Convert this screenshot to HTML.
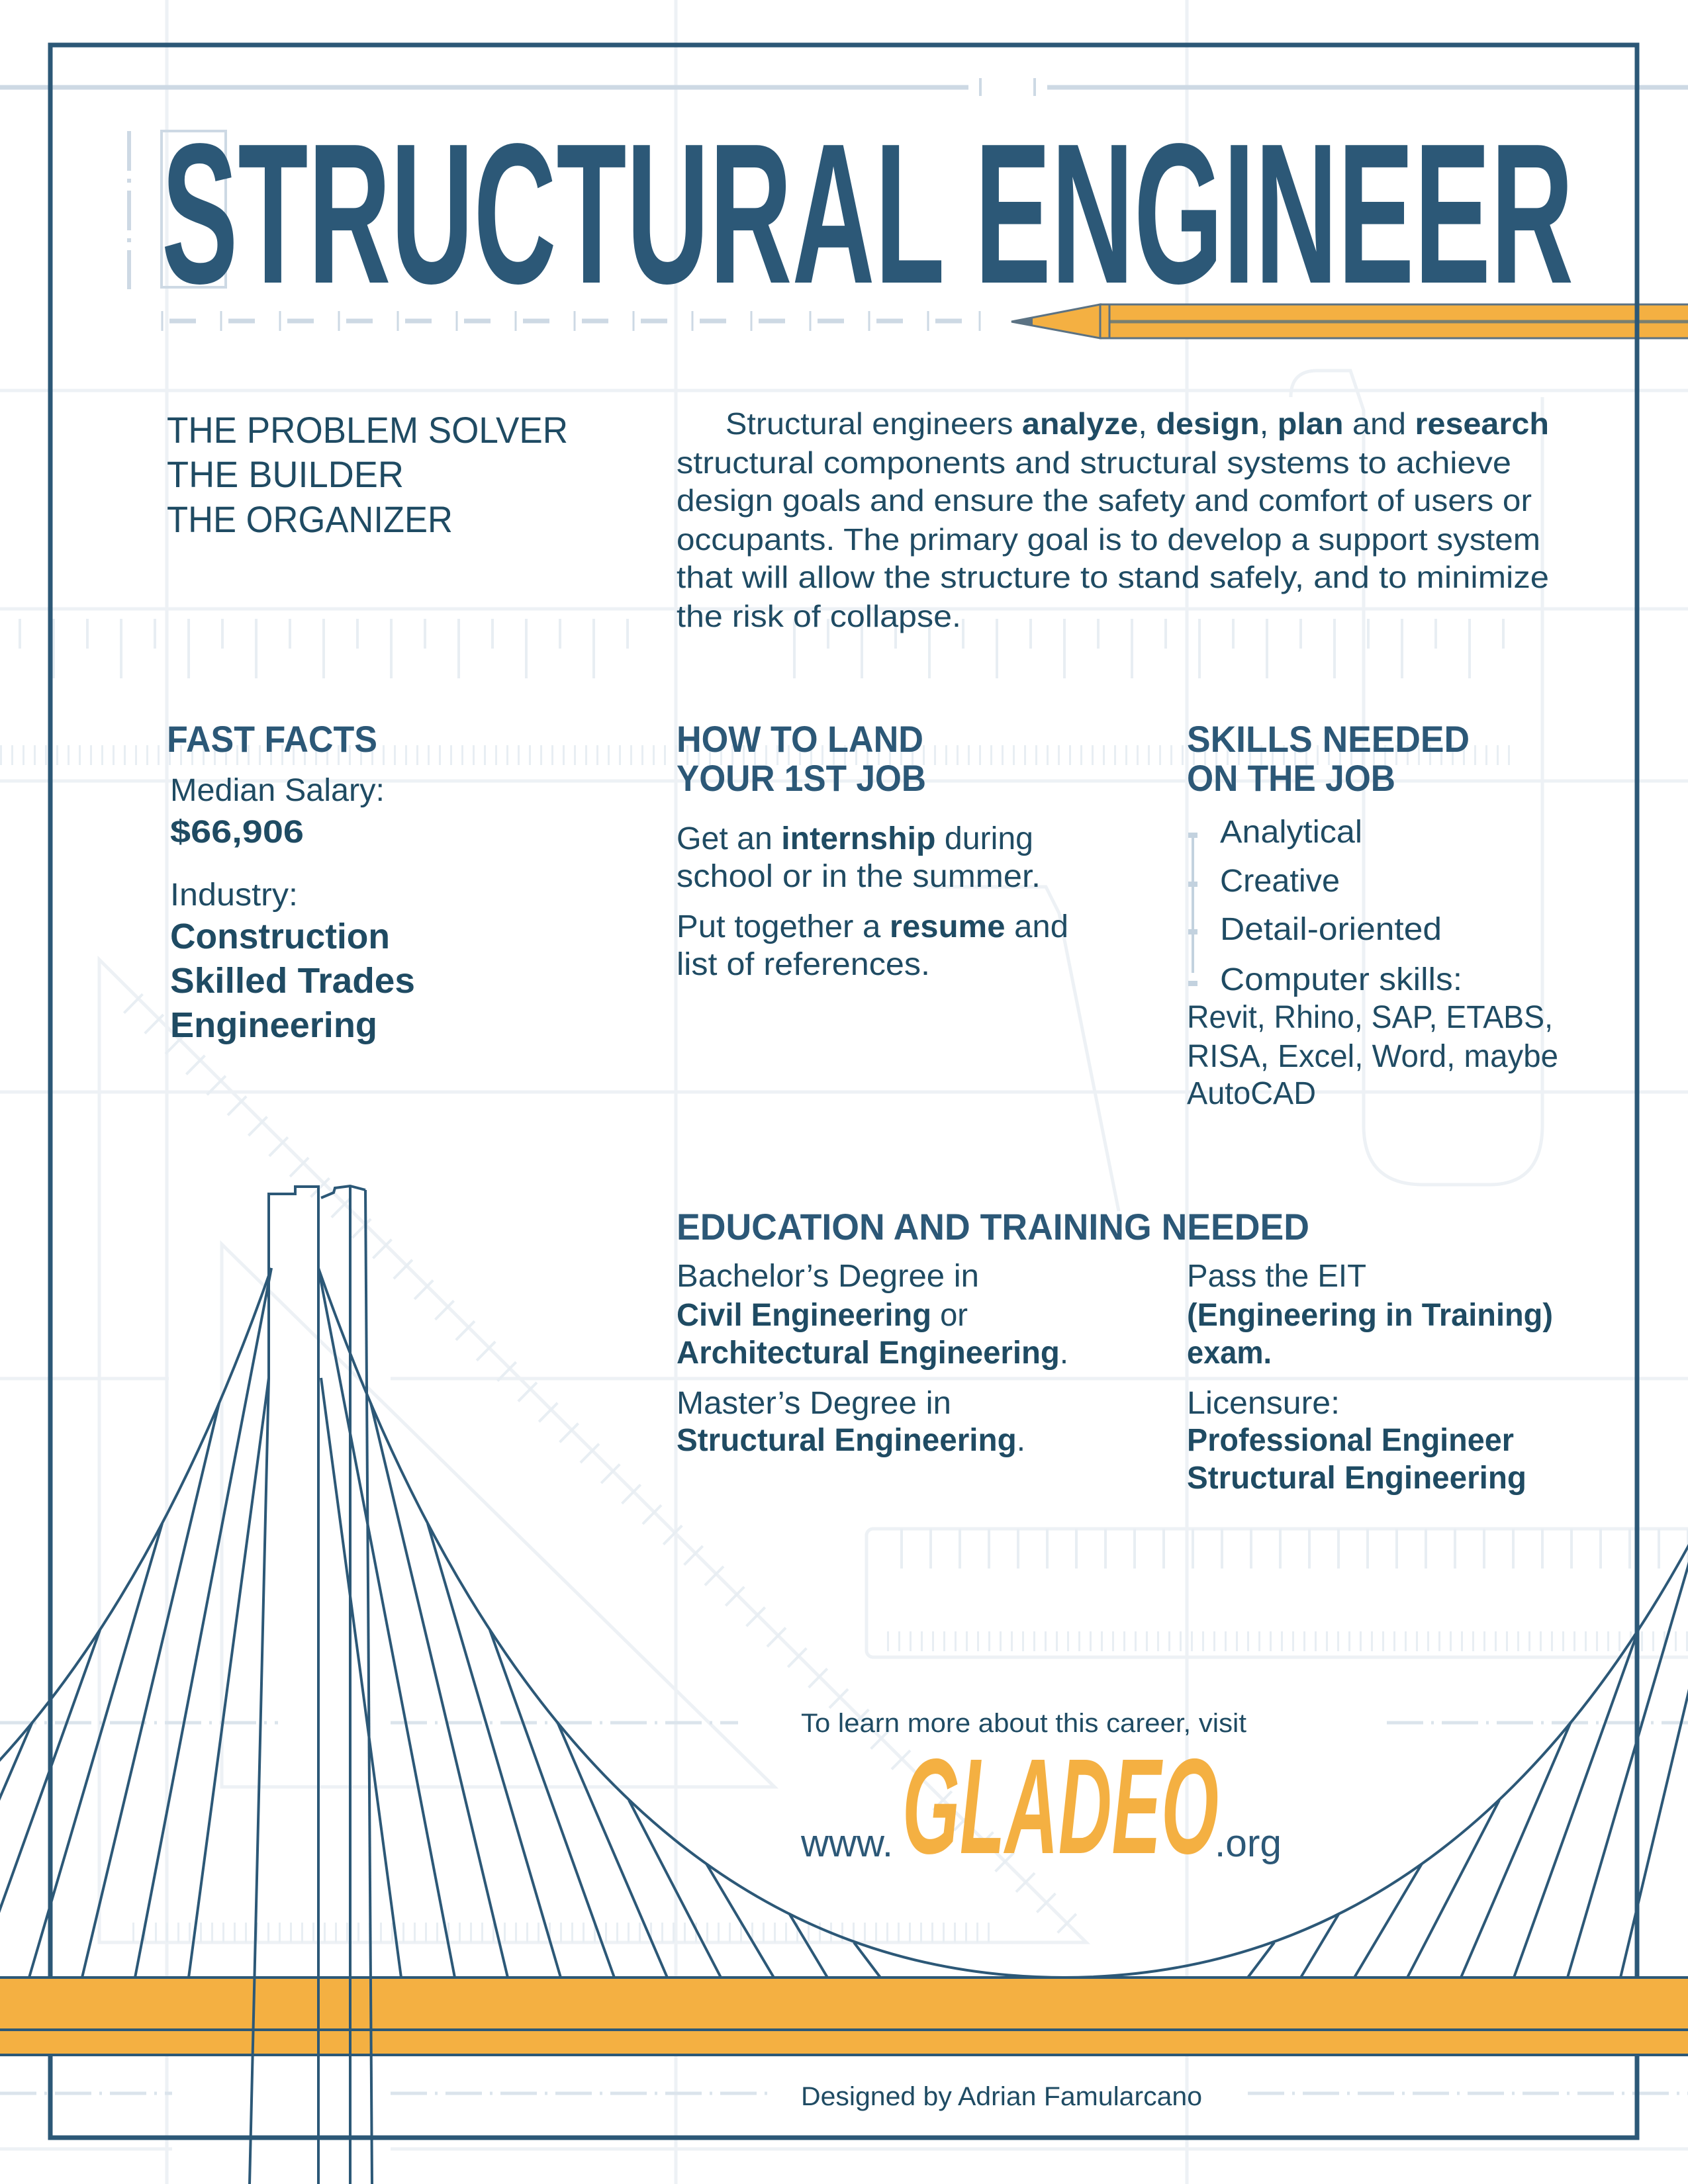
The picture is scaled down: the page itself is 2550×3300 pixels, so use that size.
<!DOCTYPE html>
<html><head><meta charset="utf-8"><style>
html,body{margin:0;padding:0;background:#fff}
svg{display:block}
text{font-family:"Liberation Sans",sans-serif;fill:#1f4b63}
.b{font-weight:bold}
.t{fill:#2c5877}
</style></head><body>
<svg width="2550" height="3300" viewBox="0 0 2550 3300" xmlns="http://www.w3.org/2000/svg">
<rect width="2550" height="3300" fill="#fff"/>
<!-- faint background -->
<g stroke="#edf1f5" stroke-width="5" fill="none">
 <line x1="252" y1="0" x2="252" y2="3300"/>
 <line x1="1021" y1="0" x2="1021" y2="3300"/>
 <line x1="1793" y1="0" x2="1793" y2="3300"/>
 <line x1="0" y1="590" x2="2550" y2="590"/>
 <line x1="0" y1="920" x2="2550" y2="920"/>
 <line x1="0" y1="1180" x2="2550" y2="1180"/>
 <line x1="0" y1="1650" x2="2550" y2="1650"/>
 <line x1="0" y1="2083" x2="255" y2="2083"/>
 <line x1="590" y1="2083" x2="2550" y2="2083"/>
 <rect x="1309" y="2310" width="1260" height="194" rx="10"/>
 <polygon points="150,1450 150,2935 1641,2935"/>
 <polygon points="335,1880 335,2700 1170,2700"/>
 <path d="M1950 600 Q1950 560 1990 560 L2040 560 L2060 620 L2060 1700 Q2060 1790 2150 1790 L2250 1790 Q2330 1790 2330 1700 L2330 600"/>
 <path d="M1400 1340 L1580 1340 L1600 1380 L1690 1830"/>
</g>
<g stroke="#e8eef3" stroke-width="4">
 <path d="M30 935 V980 M81 935 V1025 M132 935 V980 M183 935 V1025 M234 935 V980 M285 935 V1025 M336 935 V980 M387 935 V1025 M438 935 V980 M489 935 V1025 M540 935 V980 M591 935 V1025 M642 935 V980 M693 935 V1025 M744 935 V980 M795 935 V1025 M846 935 V980 M897 935 V1025 M948 935 V980 M1200 935 V1025 M1251 935 V980 M1302 935 V1025 M1353 935 V980 M1404 935 V1025 M1455 935 V980 M1506 935 V1025 M1557 935 V980 M1608 935 V1025 M1659 935 V980 M1710 935 V1025 M1761 935 V980 M1812 935 V1025 M1863 935 V980 M1914 935 V1025 M1965 935 V980 M2016 935 V1025 M2067 935 V980 M2118 935 V1025 M2169 935 V980 M2220 935 V1025 M2271 935 V980"/>
</g>
<g stroke="#e8eef3" stroke-width="3" stroke-dasharray="3 14">
 <line x1="0" y1="1141" x2="2290" y2="1141" stroke-width="30"/>
 <line x1="1340" y1="2480" x2="2550" y2="2480" stroke-width="30"/>
 <line x1="200" y1="2920" x2="1500" y2="2920" stroke-width="30"/>
</g>
<g stroke="#e8eef3" stroke-width="3" stroke-dasharray="4 40">
 <line x1="1360" y1="2340" x2="2550" y2="2340" stroke-width="60"/>
 <line x1="200" y1="1515" x2="1641" y2="2935" stroke-width="40"/>
</g>
<g stroke="#dbe4ec" stroke-width="5" stroke-dasharray="55 12 4 12">
 <line x1="0" y1="2603" x2="420" y2="2603"/>
 <line x1="590" y1="2603" x2="1115" y2="2603"/>
 <line x1="2095" y1="2603" x2="2550" y2="2603"/>
 <line x1="0" y1="3163" x2="260" y2="3163"/>
 <line x1="590" y1="3163" x2="1170" y2="3163"/>
 <line x1="1885" y1="3163" x2="2550" y2="3163"/>
</g>
<line x1="0" y1="3247" x2="260" y2="3247" stroke="#edf1f5" stroke-width="5"/>
<line x1="590" y1="3247" x2="2550" y2="3247" stroke="#edf1f5" stroke-width="5"/>
<!-- top rule -->
<g stroke="#cdd9e4" stroke-width="7">
 <line x1="0" y1="132" x2="1463" y2="132"/>
 <line x1="1582" y1="132" x2="2550" y2="132"/>
 <line x1="1481" y1="118" x2="1481" y2="145" stroke-width="4"/>
 <line x1="1563" y1="118" x2="1563" y2="145" stroke-width="4"/>
</g>
<!-- title marks -->
<rect x="244" y="198" width="97" height="236" fill="none" stroke="#cdd9e4" stroke-width="4"/>
<line x1="195" y1="198" x2="195" y2="437" stroke="#cdd9e4" stroke-width="6" stroke-dasharray="60 12 6 12"/>
<g stroke="#cdd9e4">
 <line x1="244" y1="485" x2="1480" y2="485" stroke-width="7" stroke-dasharray="0 12 40 37"/>
</g>
<g stroke="#cdd9e4" stroke-width="3">
 <path d="M245 470V500 M334 470V500 M423 470V500 M512 470V500 M601 470V500 M690 470V500 M779 470V500 M868 470V500 M957 470V500 M1046 470V500 M1135 470V500 M1224 470V500 M1313 470V500 M1402 470V500 M1480 470V500"/>
</g>
<text x="244" y="427" font-size="302" class="b t" textLength="2133" lengthAdjust="spacingAndGlyphs">STRUCTURAL ENGINEER</text>
<!-- pencil -->
<polygon points="1528,486 1662,460 1662,511" fill="#f4b042" stroke="#5b7283" stroke-width="3"/>
<polygon points="1528,486 1560,480 1560,492" fill="#5b7283"/>
<rect x="1662" y="460" width="900" height="51" fill="#f4b042" stroke="#5b7283" stroke-width="3"/>
<line x1="1676" y1="486" x2="2550" y2="486" stroke="#7a7f70" stroke-width="5"/>
<line x1="1676" y1="460" x2="1676" y2="511" stroke="#5b7283" stroke-width="3"/>
<!-- frame -->
<rect x="76" y="68" width="2397" height="3162" fill="none" stroke="#2c5877" stroke-width="7"/>

<g font-size="56">
<text x="252" y="669" textLength="606" lengthAdjust="spacingAndGlyphs">THE PROBLEM SOLVER</text>
<text x="252" y="736" textLength="358" lengthAdjust="spacingAndGlyphs">THE BUILDER</text>
<text x="252" y="804" textLength="432" lengthAdjust="spacingAndGlyphs">THE ORGANIZER</text>
</g>
<g font-size="46">
<text x="1096" y="656" textLength="1244" lengthAdjust="spacingAndGlyphs">Structural engineers <tspan class="b">analyze</tspan>, <tspan class="b">design</tspan>, <tspan class="b">plan</tspan> and <tspan class="b">research</tspan></text>
<text x="1022" y="715" textLength="1261" lengthAdjust="spacingAndGlyphs">structural components and structural systems to achieve</text>
<text x="1022" y="772" textLength="1292" lengthAdjust="spacingAndGlyphs">design goals and ensure the safety and comfort of users or</text>
<text x="1022" y="831" textLength="1305" lengthAdjust="spacingAndGlyphs">occupants. The primary goal is to develop a support system</text>
<text x="1022" y="888" textLength="1318" lengthAdjust="spacingAndGlyphs">that will allow the structure to stand safely, and to minimize</text>
<text x="1022" y="947" textLength="430" lengthAdjust="spacingAndGlyphs">the risk of collapse.</text>
</g>
<g font-size="56" class="b">
<text class="b t" x="252" y="1136" textLength="318" lengthAdjust="spacingAndGlyphs">FAST FACTS</text>
<text class="b t" x="1022" y="1136" textLength="373" lengthAdjust="spacingAndGlyphs">HOW TO LAND</text>
<text class="b t" x="1022" y="1195" textLength="377" lengthAdjust="spacingAndGlyphs">YOUR 1ST JOB</text>
<text class="b t" x="1793" y="1136" textLength="427" lengthAdjust="spacingAndGlyphs">SKILLS NEEDED</text>
<text class="b t" x="1793" y="1195" textLength="315" lengthAdjust="spacingAndGlyphs">ON THE JOB</text>
<text class="b t" x="1022" y="1873" textLength="956" lengthAdjust="spacingAndGlyphs">EDUCATION AND TRAINING NEEDED</text>
</g>
<g font-size="48">
<text x="257" y="1210" textLength="324" lengthAdjust="spacingAndGlyphs">Median Salary:</text>
<text x="257" y="1273" class="b" textLength="202" lengthAdjust="spacingAndGlyphs">$66,906</text>
<text x="257" y="1368" textLength="193" lengthAdjust="spacingAndGlyphs">Industry:</text>
<text x="257" y="1433" class="b" font-size="54" textLength="332" lengthAdjust="spacingAndGlyphs">Construction</text>
<text x="257" y="1500" class="b" font-size="54" textLength="370" lengthAdjust="spacingAndGlyphs">Skilled Trades</text>
<text x="257" y="1567" class="b" font-size="54" textLength="313" lengthAdjust="spacingAndGlyphs">Engineering</text>

<text x="1022" y="1283" textLength="539" lengthAdjust="spacingAndGlyphs">Get an <tspan class="b">internship</tspan> during</text>
<text x="1022" y="1340" textLength="550" lengthAdjust="spacingAndGlyphs">school or in the summer.</text>
<text x="1022" y="1416" textLength="592" lengthAdjust="spacingAndGlyphs">Put together a <tspan class="b">resume</tspan> and</text>
<text x="1022" y="1473" textLength="383" lengthAdjust="spacingAndGlyphs">list of references.</text>

<text x="1843" y="1273" textLength="215" lengthAdjust="spacingAndGlyphs">Analytical</text>
<text x="1843" y="1347" textLength="181" lengthAdjust="spacingAndGlyphs">Creative</text>
<text x="1843" y="1420" textLength="335" lengthAdjust="spacingAndGlyphs">Detail-oriented</text>
<text x="1843" y="1496" textLength="366" lengthAdjust="spacingAndGlyphs">Computer skills:</text>
<text x="1793" y="1553" textLength="553" lengthAdjust="spacingAndGlyphs">Revit, Rhino, SAP, ETABS,</text>
<text x="1793" y="1612" textLength="561" lengthAdjust="spacingAndGlyphs">RISA, Excel, Word, maybe</text>
<text x="1793" y="1668" textLength="195" lengthAdjust="spacingAndGlyphs">AutoCAD</text>

<text x="1022" y="1944" textLength="457" lengthAdjust="spacingAndGlyphs">Bachelor’s Degree in</text>
<text x="1022" y="2003" textLength="440" lengthAdjust="spacingAndGlyphs"><tspan class="b">Civil Engineering</tspan> or</text>
<text x="1022" y="2060" textLength="592" lengthAdjust="spacingAndGlyphs"><tspan class="b">Architectural Engineering</tspan>.</text>
<text x="1022" y="2136" textLength="415" lengthAdjust="spacingAndGlyphs">Master’s Degree in</text>
<text x="1022" y="2192" textLength="527" lengthAdjust="spacingAndGlyphs"><tspan class="b">Structural Engineering</tspan>.</text>

<text x="1793" y="1944" textLength="271" lengthAdjust="spacingAndGlyphs">Pass the EIT</text>
<text x="1793" y="2003" class="b" textLength="553" lengthAdjust="spacingAndGlyphs">(Engineering in Training)</text>
<text x="1793" y="2060" class="b" textLength="128" lengthAdjust="spacingAndGlyphs">exam.</text>
<text x="1793" y="2136" textLength="231" lengthAdjust="spacingAndGlyphs">Licensure:</text>
<text x="1793" y="2192" class="b" textLength="494" lengthAdjust="spacingAndGlyphs">Professional Engineer</text>
<text x="1793" y="2249" class="b" textLength="513" lengthAdjust="spacingAndGlyphs">Structural Engineering</text>
</g>
<g stroke="#c3d2df">
 <line x1="1802" y1="1262" x2="1802" y2="1470" stroke-width="4"/>
 <path d="M1795 1262h14 M1795 1336h14 M1795 1408h14 M1795 1486h14" stroke-width="8"/>
</g>

<!-- bridge -->
<rect x="0" y="2988" width="2550" height="117" fill="#f4b042"/>
<g stroke="#2c5877" stroke-width="4" fill="none">
 <line x1="0" y1="2988" x2="2550" y2="2988"/>
 <line x1="0" y1="3067" x2="2550" y2="3067"/>
 <line x1="0" y1="3105" x2="2550" y2="3105"/>
 <g>
  <path d="M481 1916 Q856 2988 1610 2988"/>
  <line x1="485" y1="2082" x2="606" y2="2988"/>
  <line x1="481" y1="1916" x2="687" y2="2988"/>
  <line x1="560" y1="2120" x2="767" y2="2988"/>
  <line x1="646" y1="2302" x2="847" y2="2988"/>
  <line x1="740" y1="2463" x2="928" y2="2988"/>
  <line x1="842" y1="2602" x2="1008" y2="2988"/>
  <line x1="950" y1="2720" x2="1089" y2="2988"/>
  <line x1="1067" y1="2816" x2="1169" y2="2988"/>
  <line x1="1192" y1="2891" x2="1250" y2="2988"/>
  <line x1="1290" y1="2935" x2="1330" y2="2988"/>
 </g>
 <g transform="matrix(-1,0,0,1,891,0)">
  <path d="M481 1916 Q856 2988 1610 2988"/>
  <line x1="485" y1="2082" x2="606" y2="2988"/>
  <line x1="481" y1="1916" x2="687" y2="2988"/>
  <line x1="560" y1="2120" x2="767" y2="2988"/>
  <line x1="646" y1="2302" x2="847" y2="2988"/>
  <line x1="740" y1="2463" x2="928" y2="2988"/>
  <line x1="842" y1="2602" x2="1008" y2="2988"/>
  <line x1="950" y1="2720" x2="1089" y2="2988"/>
  <line x1="1067" y1="2816" x2="1169" y2="2988"/>
 </g>
 <g transform="matrix(-1,0,0,1,3215,0)">
  <path d="M481 1916 Q856 2988 1610 2988"/>
  <line x1="646" y1="2302" x2="847" y2="2988"/>
  <line x1="740" y1="2463" x2="928" y2="2988"/>
  <line x1="842" y1="2602" x2="1008" y2="2988"/>
  <line x1="950" y1="2720" x2="1089" y2="2988"/>
  <line x1="1067" y1="2816" x2="1169" y2="2988"/>
  <line x1="1192" y1="2891" x2="1250" y2="2988"/>
  <line x1="1290" y1="2935" x2="1330" y2="2988"/>
  <line x1="560" y1="2120" x2="767" y2="2988"/>
 </g>
 <path d="M406 2082 L406 1804 L446 1804 L446 1793 L481 1793 L481 3300"/>
 <path d="M406 2082 L377 3300"/>
 <path d="M485 1810 L504 1802 L506 1795 L529 1792 L552 1798"/>
 <line x1="529" y1="1792" x2="529" y2="3300"/>
 <line x1="552" y1="1798" x2="562" y2="3300"/>
</g>
<text x="1210" y="2617" font-size="40" textLength="673" lengthAdjust="spacingAndGlyphs">To learn more about this career, visit</text>
<text x="1210" y="2805" font-size="58" class="t" textLength="139" lengthAdjust="spacingAndGlyphs">www.</text>
<text x="1363" y="2800" font-size="205" font-weight="bold" font-style="italic" style="fill:#f4b042" textLength="478" lengthAdjust="spacingAndGlyphs">GLADEO</text>
<text x="1835" y="2805" font-size="58" class="t" textLength="101" lengthAdjust="spacingAndGlyphs">.org</text>
<text x="1210" y="3181" font-size="40" textLength="606" lengthAdjust="spacingAndGlyphs">Designed by Adrian Famularcano</text>
</svg>
</body></html>
